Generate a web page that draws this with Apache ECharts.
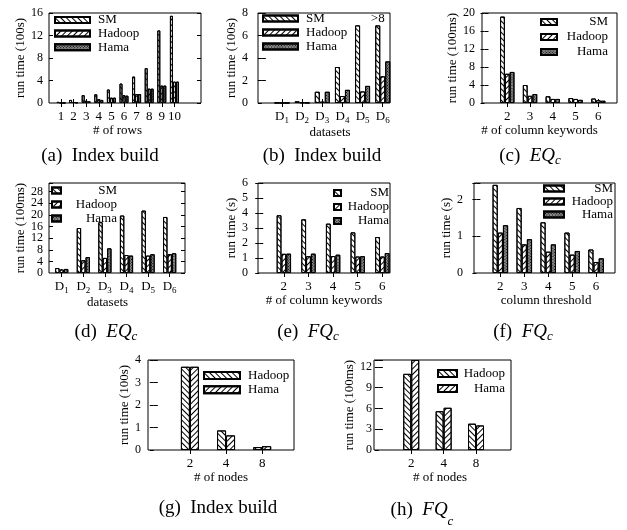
<!DOCTYPE html>
<html><head><meta charset="utf-8">
<script src="https://cdn.jsdelivr.net/npm/echarts@6/dist/echarts.min.js"></script>
<style>html,body{margin:0;padding:0;background:#fff}#c{width:627px;height:530px}</style>
</head><body><div id="c"></div>
<script>
// ---------- data ----------
// (a) Index build vs # of rows (100s)
const aCats = ['1','2','3','4','5','6','7','8','9','10'];
const aSM = [0.2, 0.55, 1.4, 1.55, 2.4, 3.45, 4.7, 6.2, 12.9, 15.5];
const aHadoop = [0.05, 0.18, 0.4, 0.7, 0.95, 1.4, 1.6, 2.55, 3.1, 3.8];
const aHama = [0.02, 0.1, 0.3, 0.55, 0.95, 1.3, 1.6, 2.55, 3.1, 3.8];
// (b) Index build vs datasets (100s)
const bCats = ['D1','D2','D3','D4','D5','D6'];
const bSM = [0.02, 0.15, 1.0, 3.2, 6.9, 6.9];
const bHadoop = [0.01, 0.05, 0.12, 0.62, 1.03, 2.37];
const bHama = [0.01, 0.03, 1.0, 1.17, 1.52, 3.7];
const bNote = { series: 0, index: 5, text: '>8' };
// (c) EQc vs # of column keywords (100ms)
const cCats = ['2','3','4','5','6'];
const cSM = [19.2, 4.0, 1.5, 1.1, 1.0];
const cHadoop = [6.5, 1.6, 0.9, 0.9, 0.6];
const cHama = [6.9, 2.0, 0.9, 0.7, 0.5];
// (d) EQc vs datasets (100ms)
const dCats = ['D1','D2','D3','D4','D5','D6'];
const dSM = [1.7, 15.5, 17.5, 19.8, 21.5, 19.3];
const dHadoop = [1.2, 4.4, 5.2, 6.2, 6.0, 6.5];
const dHama = [1.4, 5.5, 8.5, 6.0, 6.5, 6.8];
// (e) FQc vs # of column keywords (s)
const eCats = ['2','3','4','5','6'];
const eSM = [3.85, 3.58, 3.29, 2.71, 2.4];
const eHadoop = [1.28, 1.12, 1.13, 1.1, 1.1];
const eHama = [1.29, 1.29, 1.22, 1.12, 1.33];
// (f) FQc vs column threshold (s)
const fCats = ['2','3','4','5','6'];
const fSM = [2.4, 1.77, 1.38, 1.1, 0.64];
const fHadoop = [1.1, 0.78, 0.58, 0.5, 0.3];
const fHama = [1.3, 0.92, 0.78, 0.6, 0.4];
// (g) Index build vs # of nodes (100s)
const gCats = ['2','4','8'];
const gHadoop = [3.7, 0.87, 0.13];
const gHama = [3.7, 0.65, 0.17];
// (h) FQc vs # of nodes (100ms)
const hCats = ['2','4','8'];
const hHadoop = [11.0, 5.6, 3.8];
const hHama = [13.0, 6.1, 3.55];

// ---------- styles ----------
const FONT = 'Liberation Serif';
const DECALS = {
  back: { symbol: 'rect', symbolSize: 1, dashArrayX: [1, 0], dashArrayY: [1, 2.5], rotation: Math.PI / 4, color: '#000' },
  fwd: { symbol: 'rect', symbolSize: 1, dashArrayX: [1, 0], dashArrayY: [1, 2.5], rotation: -Math.PI / 4, color: '#000' },
  dense: { symbol: 'rect', symbolSize: 1, dashArrayX: [1, 1], dashArrayY: [1, 1], rotation: Math.PI / 4, color: '#000' }
};
const FILLS = { back: '#fff', fwd: '#fff', dense: '#8c8c8c' };

const panels = [
  { cats: aCats, names: ['SM','Hadoop','Hama'], vals: [aSM, aHadoop, aHama], sty: ['back','fwd','dense'],
    yName: 'run time (100s)', xName: '# of rows', grid: [49,13,152,90], xr: [0.05,12.11], yMax: 16, yIv: 4, bw: 3,
    ylm: 6, yng: 15, xs: -7.5, lg: { left: 54, top: 13.5, iw: 35, ih: 6, gap: 0.6, tw: 60, align: 'left' },
    cap: { x: 100, y: 156, text: '(a)  Index build' } },
  { cats: bCats, names: ['SM','Hadoop','Hama'], vals: [bSM, bHadoop, bHama], sty: ['back','fwd','dense'], note: bNote,
    yName: 'run time (100s)', xName: 'datasets', grid: [258,13,132,90], xr: [-0.19,6.36], yMax: 8, yIv: 2, bw: 5,
    ylm: 10, yng: 10, xs: 6, lg: { left: 262, top: 12, iw: 35, ih: 6, gap: 1, tw: 60, align: 'left' },
    cap: { x: 322, y: 156, text: '(b)  Index build' } },
  { cats: cCats, names: ['SM','Hadoop','Hama'], vals: [cSM, cHadoop, cHama], sty: ['back','fwd','dense'],
    yName: 'run time (100ms)', xName: '# of column keywords', grid: [482,13,135,90], xr: [-0.11,5.82], yMax: 20, yIv: 4, bw: 4.8,
    ylm: 7, yng: 16.5, xs: -10, lg: { left: 540, top: 15.4, iw: 16, ih: 6, gap: 2, tw: 46, align: 'right' },
    cap: { x: 530, y: 156, pre: '(c)  ', it: 'EQ', sub: 'c', p: 8 } },
  { cats: dCats, names: ['SM','Hadoop','Hama'], vals: [dSM, dHadoop, dHama], sty: ['back','fwd','dense'],
    yName: 'run time (100ms)', xName: 'datasets', grid: [49,183,136,90], xr: [0.41,6.71], yMax: 31, yIv: 4, bw: 4.4,
    ylm: 6, yng: 14.7, xs: -9.5, lg: { left: 51, top: 184, iw: 9, ih: 6, gap: 1, tw: 51, align: 'right' },
    cap: { x: 106, y: 332, pre: '(d)  ', it: 'EQ', sub: 'c', p: 8 } },
  { cats: eCats, names: ['SM','Hadoop','Hama'], vals: [eSM, eHadoop, eHama], sty: ['back','fwd','dense'],
    yName: 'run time (s)', xName: '# of column keywords', grid: [258,183,132,90], xr: [-0.05,5.31], yMax: 6, yIv: 1, bw: 4.8,
    ylm: 10, yng: 10, xs: 0, lg: { left: 333, top: 186.5, iw: 7, ih: 6, gap: 1, tw: 43, align: 'right' },
    cap: { x: 308, y: 332, pre: '(e)  ', it: 'FQ', sub: 'c', p: 8 } },
  { cats: fCats, names: ['SM','Hadoop','Hama'], vals: [fSM, fHadoop, fHama], sty: ['back','fwd','dense'],
    yName: 'run time (s)', xName: 'column threshold', grid: [474,183,141,90], xr: [-0.1,5.79], yMax: 2.45, yIv: 1, bw: 5.2,
    ylm: 11, yng: 10.6, xs: 1.6, lg: { left: 543, top: 182, iw: 20, ih: 6, gap: 0, tw: 44, align: 'right' },
    cap: { x: 523, y: 332, pre: '(f)  ', it: 'FQ', sub: 'c', p: 8 } },
  { cats: gCats, names: ['Hadoop#n','Hama#n'], vals: [gHadoop, gHama], sty: ['back','fwd'],
    yName: 'run time (100s)', xName: '# of nodes', grid: [148,360,146,90], xr: [-0.16,3.88], yMax: 4, yIv: 1, bw: 9,
    ylm: 7, yng: 7.7, xs: 0, lg: { left: 203, top: 369, iw: 36, ih: 7, gap: 1.3, tw: 60, align: 'left' },
    cap: { x: 218, y: 508, text: '(g)  Index build' } },
  { cats: hCats, names: ['Hadoop#n','Hama#n'], vals: [hHadoop, hHama], sty: ['back','fwd'],
    yName: 'run time (100ms)', xName: '# of nodes', grid: [374,360,137,90], xr: [-0.15,4.08], yMax: 13, yIv: 3, bw: 8,
    ylm: 2, yng: 14.3, xs: -2.4, lg: { left: 437, top: 367, iw: 19, ih: 7, gap: 2, tw: 43, align: 'right' },
    cap: { x: 422, y: 510, pre: '(h)  ', it: 'FQ', sub: 'c', p: 15 } }
];

function catLabel(c) {
  const m = /^D(\d)$/.exec(c);
  return m ? '{m|D}{s|' + m[1] + '}' : '{m|' + c + '}';
}
function isMult(v, iv) { const r = v / iv; return Math.abs(r - Math.round(r)) < 1e-6; }

const grids = [], xAxes = [], yAxes = [], series = [], legends = [], graphics = [];
panels.forEach((p, i) => {
  grids.push({ left: p.grid[0], top: p.grid[1], width: p.grid[2], height: p.grid[3], show: true,
    borderColor: '#000', borderWidth: 1, backgroundColor: 'transparent', containLabel: false });
  const pos = p.cats.map((c, j) => j + 1);
  const pad = p.xs >= 0 ? [0, 0, 0, 2 * p.xs] : [0, -2 * p.xs, 0, 0];
  xAxes.push({ type: 'value', gridIndex: i, min: p.xr[0], max: p.xr[1], position: 'bottom',
    axisLine: { show: false }, splitLine: { show: false },
    axisTick: { show: true, inside: true, length: 4, customValues: pos, lineStyle: { color: '#000' } },
    axisLabel: { customValues: pos, margin: 7, hideOverlap: false, formatter: v => catLabel(p.cats[Math.round(v) - 1] || ''),
      rich: { m: { fontFamily: FONT, fontSize: 13, color: '#000', lineHeight: 13, verticalAlign: 'top' },
              s: { fontFamily: FONT, fontSize: 9, color: '#000', lineHeight: 9, verticalAlign: 'top', padding: [6, 0, 0, 0] } } },
    name: p.xName, nameLocation: 'middle', nameGap: 19,
    nameTextStyle: { fontFamily: FONT, fontSize: 13, color: '#000', padding: pad } });
  xAxes.push({ type: 'value', gridIndex: i, min: p.xr[0], max: p.xr[1], position: 'top',
    axisLine: { show: false }, splitLine: { show: false }, axisLabel: { show: false },
    axisTick: { show: true, inside: true, length: 4, customValues: pos, lineStyle: { color: '#000' } } });
  const labelBase = { margin: p.ylm, fontFamily: FONT, fontSize: 12, lineHeight: 10, color: '#000', hideOverlap: false };
  // main left axis: ticks, labels above zero, axis title
  yAxes.push({ type: 'value', gridIndex: i, min: 0, max: p.yMax, interval: p.yIv, position: 'left',
    axisLine: { show: false }, splitLine: { show: false },
    axisTick: { show: true, inside: true, length: 4, lineStyle: { color: '#000' } },
    axisLabel: Object.assign({}, labelBase, { showMinLabel: false, showMaxLabel: true,
      formatter: v => (v > 0 && isMult(v, p.yIv)) ? String(v) : '' }),
    name: p.yName, nameLocation: 'middle', nameGap: p.yng,
    nameTextStyle: { fontFamily: FONT, fontSize: 13, color: '#000' } });
  // right mirror ticks
  yAxes.push({ type: 'value', gridIndex: i, min: 0, max: p.yMax, interval: p.yIv, position: 'right',
    axisLine: { show: false }, splitLine: { show: false }, axisLabel: { show: false },
    axisTick: { show: true, inside: true, length: 4, lineStyle: { color: '#000' } } });
  // left axis carrying only the zero label
  yAxes.push({ type: 'value', gridIndex: i, min: 0, max: p.yMax, interval: p.yIv, position: 'left', offset: 0,
    axisLine: { show: false }, splitLine: { show: false }, axisTick: { show: false },
    axisLabel: Object.assign({}, labelBase, { showMinLabel: true, showMaxLabel: false,
      formatter: v => v === 0 ? '0' : '' }) });
  p.names.forEach((nm, k) => {
    const st = p.sty[k];
    series.push({ type: 'bar', name: nm, xAxisIndex: 2 * i, yAxisIndex: 3 * i, barWidth: p.bw, barGap: '0%',
      animation: false,
      itemStyle: { color: FILLS[st], borderColor: '#000', borderWidth: 1, decal: DECALS[st] },
      emphasis: { disabled: true },
      data: p.vals[k].map((v, j) => {
        const item = { value: [j + 1, v] };
        if (p.note && p.note.series === k && p.note.index === j) {
          item.label = { show: true, position: 'top', distance: 0, formatter: p.note.text,
            fontFamily: FONT, fontSize: 13, color: '#000' };
        }
        return item;
      }) });
  });
  const L = p.lg;
  legends.push({ data: p.names, left: L.left, top: L.top, orient: 'vertical', padding: 0,
    itemWidth: L.iw, itemHeight: L.ih, itemGap: L.gap, icon: 'rect', selectedMode: false,
    formatter: n => '{r|' + n.split('#')[0] + '}',
    textStyle: { rich: { r: { width: L.tw, align: L.align, fontFamily: FONT, fontSize: 13, color: '#000', lineHeight: 12,
      padding: L.align === 'left' ? [0, 0, 0, 3] : 0 } } } });
  const C = p.cap;
  if (C.text) {
    graphics.push({ type: 'text', x: C.x, y: C.y, style: { text: C.text, fontFamily: FONT, fontSize: 19, fill: '#000',
      align: 'center', verticalAlign: 'middle' } });
  } else {
    graphics.push({ type: 'text', x: C.x, y: C.y, style: {
      text: '{n|' + C.pre + '}{i|' + C.it + '}{s|' + C.sub + '}',
      align: 'center', verticalAlign: 'middle', fontFamily: FONT, fontSize: 19, fill: '#000',
      rich: {
        n: { fontFamily: FONT, fontSize: 19, fill: '#000', lineHeight: 19, verticalAlign: 'top' },
        i: { fontFamily: FONT, fontSize: 19, fontStyle: 'italic', fill: '#000', lineHeight: 19, verticalAlign: 'top' },
        s: { fontFamily: FONT, fontSize: 13, fontStyle: 'italic', fill: '#000', lineHeight: 13, verticalAlign: 'top', padding: [C.p, 0, 0, 0] }
      } } });
  }
});

const chart = echarts.init(document.getElementById('c'), null, { renderer: 'canvas' });
chart.setOption({
  animation: false,
  backgroundColor: '#fff',
  grid: grids, xAxis: xAxes, yAxis: yAxes, series: series, legend: legends, graphic: graphics
});
</script>
</body></html>
